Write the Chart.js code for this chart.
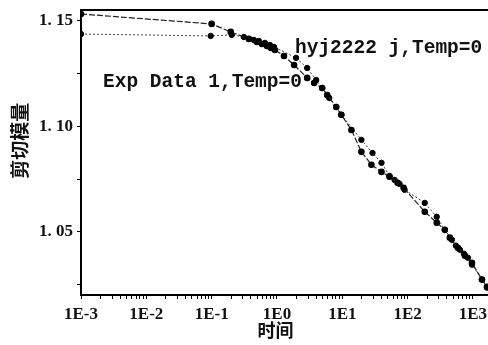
<!DOCTYPE html>
<html>
<head>
<meta charset="utf-8">
<script src="https://cdn.jsdelivr.net/npm/chart.js@4"></script>
<style>
  body { margin: 0; background: #fff; }
  canvas { display: block; }
</style>
</head>
<body>
<canvas id="chart" width="488" height="345"></canvas>
<script>
// data (time, shear modulus)
const hyjTime = [0.001, 0.1, 0.196, 0.371, 0.492, 0.588, 0.702, 0.809, 0.931, 1.28, 1.83, 2.9, 3.71, 4.92, 5.87, 8.08, 9.66, 13.8, 19.6, 27.9, 39.8, 52.8, 70.2, 86.8, 183, 279, 371, 443, 588, 753, 966, 1375, 1641];
const hyjModulus = [1.1533, 1.1486, 1.1448, 1.1415, 1.1400, 1.1391, 1.1381, 1.1372, 1.1362, 1.1334, 1.1291, 1.1230, 1.1206, 1.1182, 1.1149, 1.1092, 1.1055, 1.0983, 1.0879, 1.0818, 1.0784, 1.0761, 1.0732, 1.0709, 1.0595, 1.0543, 1.0509, 1.0472, 1.0424, 1.0386, 1.0353, 1.0273, 1.0239];

const expTime = [0.001, 0.0966, 0.203, 0.311, 0.443, 0.528, 0.654, 0.780, 0.899, 1.96, 2.9, 3.98, 4.92, 6.31, 8.08, 9.66, 19.6, 29.0, 39.8, 52.8, 63.1, 75.3, 89.9, 183, 279, 371, 475, 548, 631, 727, 838, 966, 1375, 1641];
const expModulus = [1.1438, 1.1429, 1.1434, 1.1424, 1.1410, 1.1405, 1.1396, 1.1386, 1.1377, 1.1325, 1.1277, 1.1220, 1.1182, 1.1135, 1.1092, 1.1055, 1.0936, 1.0874, 1.0827, 1.0765, 1.0746, 1.0727, 1.0699, 1.0637, 1.0571, 1.0509, 1.0462, 1.0434, 1.0415, 1.0396, 1.0377, 1.0344, 1.0273, 1.0235];

const xMajor = [1e-3, 1e-2, 1e-1, 1, 10, 100, 1000];
const xLabels = ['1E-3', '1E-2', '1E-1', '1E0', '1E1', '1E2', '1E3'];
const yTicks = [1.025, 1.05, 1.075, 1.10, 1.125, 1.15];
const yLabels = ['', '1. 05', '', '1. 10', '', '1. 15'];

const seriesNames = ['hyj2222 j,Temp=0', 'Exp Data 1,Temp=0'];

function pts(xs, ys) { return xs.map((x, i) => ({ x: x, y: ys[i] })); }

// minor log ticks 2..9 per decade
function xTickValues() {
  const out = [];
  xMajor.forEach(m => { for (let k = 1; k < 10; k++) { const v = m * k; if (v <= 1700) out.push(v); } });
  return out;
}

const frame = {
  id: 'frame',
  afterDraw(chart) {
    const a = chart.chartArea, c = chart.ctx;
    c.save();
    c.strokeStyle = '#000';
    c.lineWidth = 2;
    c.beginPath();
    c.moveTo(a.left, a.bottom); c.lineTo(a.left, a.top); c.lineTo(a.right, a.top);
    c.stroke();
    // series name labels
    c.fillStyle = '#111';
    c.font = 'bold 19.5px "Liberation Mono"';
    c.textBaseline = 'alphabetic';
    c.fillText(seriesNames[0], a.left + 214, a.top + 43);
    c.fillText(seriesNames[1], a.left + 22, a.top + 77);
    c.restore();
  }
};

new Chart(document.getElementById('chart'), {
  type: 'scatter',
  data: {
    datasets: [
      { label: seriesNames[0], data: pts(hyjTime, hyjModulus), showLine: true,
        borderColor: '#222', borderWidth: 1.2, borderDash: [6, 2],
        pointBackgroundColor: '#000', pointBorderColor: '#000', pointRadius: 2.7 },
      { label: seriesNames[1], data: pts(expTime, expModulus), showLine: true,
        borderColor: '#444', borderWidth: 1, borderDash: [2, 2],
        pointBackgroundColor: '#000', pointBorderColor: '#000', pointRadius: 2.7 }
    ]
  },
  options: {
    responsive: false,
    animation: false,
    layout: { autoPadding: false, padding: { top: 10, right: 0, left: 0, bottom: 0 } },
    plugins: { legend: { display: false }, tooltip: { enabled: false } },
    scales: {
      x: {
        type: 'logarithmic',
        min: 0.001, max: 1700,
        afterBuildTicks: s => { s.ticks = xTickValues().map(v => ({ value: v })); },
        afterFit: s => { s.height = 50; s.paddingRight = 0; s.paddingLeft = 0; },
        border: { display: true, color: '#000', width: 2 },
        grid: { drawOnChartArea: false, drawTicks: true, tickLength: 4, color: '#000' },
        ticks: {
          autoSkip: false, maxRotation: 0, padding: 5, color: '#111',
          font: { family: '"Liberation Serif"', size: 17, weight: 'bold' },
          callback: v => { const i = xMajor.findIndex(m => Math.abs(m - v) / m < 1e-6); return i >= 0 ? xLabels[i] : ''; }
        },
        title: { display: true, text: '时间\u3000', color: '#111', padding: { top: 0, bottom: 6 },
          font: { family: '"Noto Sans CJK SC"', size: 18, weight: 'bold', lineHeight: 1 } }
      },
      y: {
        min: 1.02, max: 1.1552,
        afterBuildTicks: s => { s.ticks = yTicks.map(v => ({ value: v })); },
        afterFit: s => { s.width = 81; s.paddingTop = 0; s.paddingBottom = 0; },
        border: { display: true, color: '#000', width: 2 },
        grid: { drawOnChartArea: false, drawTicks: true, tickLength: 4, color: '#000' },
        ticks: {
          padding: 4, color: '#111',
          font: { family: '"Liberation Serif"', size: 17, weight: 'bold' },
          callback: (v, i) => yLabels[i]
        },
        title: { display: true, text: '\u3000 剪切模量', color: '#111', padding: { top: 10, bottom: 0 },
          font: { family: '"Noto Sans CJK SC"', size: 19, weight: 'bold', lineHeight: 1 } }
      }
    }
  },
  plugins: [frame]
});
</script>
</body>
</html>
